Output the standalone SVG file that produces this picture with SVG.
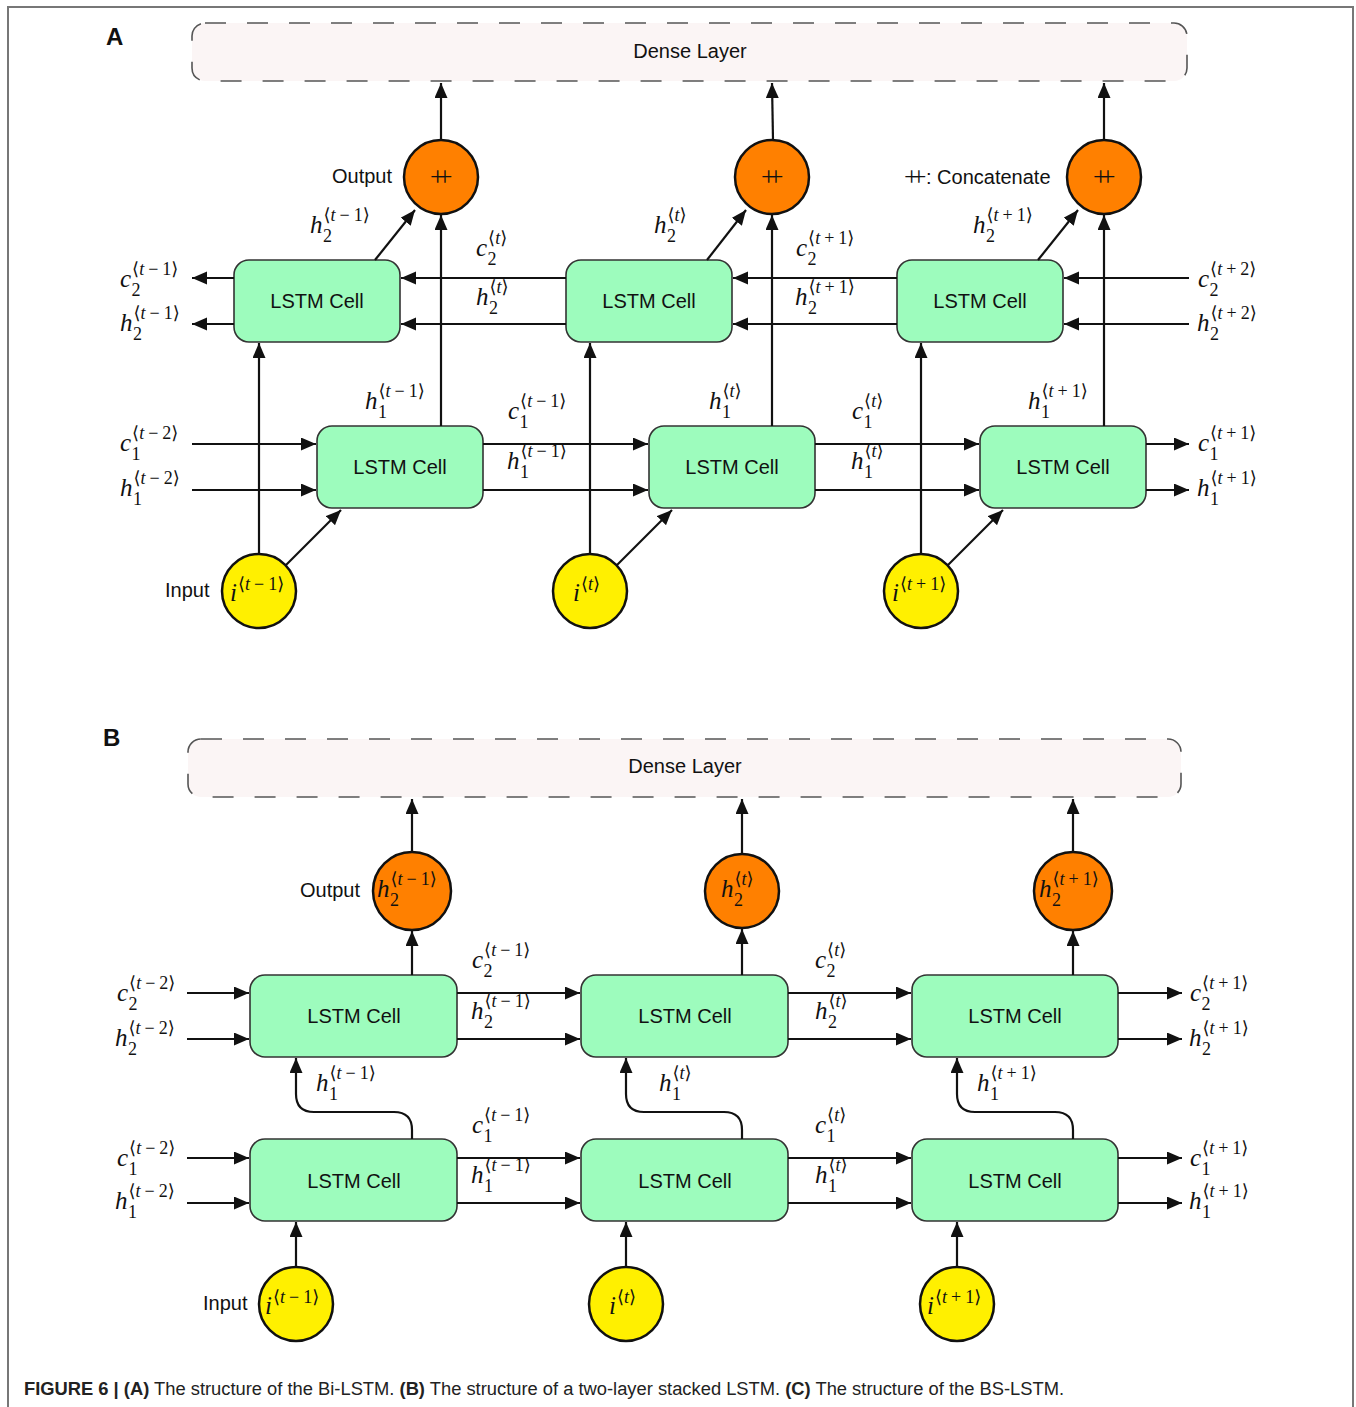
<svg xmlns="http://www.w3.org/2000/svg" width="1356" height="1407" viewBox="0 0 1356 1407">
<style>
.frame{fill:none;stroke:#777;stroke-width:2}
.dense{fill:#fbf5f5;stroke:#555;stroke-width:1.6;stroke-dasharray:21 21}
.cell{fill:#9dfcbd;stroke:#333;stroke-width:1.6}
.out{fill:#ff8000;stroke:#111;stroke-width:2.5}
.inp{fill:#fff000;stroke:#111;stroke-width:2.5}
.lab{font-family:"Liberation Sans",Arial,sans-serif;font-size:20px;fill:#111}
.ctr{text-anchor:middle}
.pl{font-family:"Liberation Sans",Arial,sans-serif;font-size:24px;font-weight:bold;fill:#111}
.con{fill:none;stroke:#111;stroke-width:2.2}
.arr{marker-end:url(#ah)}
.m text{font-family:"Liberation Serif","DejaVu Serif",serif;font-style:italic;font-size:25px;fill:#111}
.m .s{font-style:normal;font-size:18px}
.m .t{font-style:italic}
.cat{font-family:"Liberation Serif",serif;font-size:27px;fill:#111;letter-spacing:-8px}
.cap{font-family:"Liberation Sans Narrow","Liberation Sans",Arial,sans-serif;font-size:18px;fill:#222}
.b{font-weight:bold}
</style>
<defs>
<marker id="ah" markerUnits="userSpaceOnUse" markerWidth="16" markerHeight="14" refX="15" refY="6.5" orient="auto">
<path d="M0,0 L15,6.5 L0,13 z" fill="#111"/>
</marker>
</defs>
<rect width="1356" height="1407" fill="#fff"/>
<path class="frame" d="M8,1407 V7 H1353 V1407"/>

<text class="pl" x="106" y="45">A</text>
<text class="pl" x="103" y="746">B</text>

<!-- ===== Panel A nodes ===== -->
<g id="A-dense"><rect class="dense" x="192" y="23" width="995" height="58" rx="13"/><text class="lab ctr" x="690" y="58">Dense Layer</text></g>

<g id="A-out1"><circle class="out" cx="441" cy="177" r="37"/><text class="cat" x="430" y="186">++</text></g>
<g id="A-out2"><circle class="out" cx="772" cy="177" r="37"/><text class="cat" x="761" y="186">++</text></g>
<g id="A-out3"><circle class="out" cx="1104" cy="177" r="37"/><text class="cat" x="1093" y="186">++</text></g>
<text class="lab" x="332" y="183">Output</text>
<g id="A-legend"><text class="cat" x="904" y="186">++</text><text class="lab" x="926" y="184">: Concatenate</text></g>

<g id="A-top1"><rect class="cell" x="234" y="260" width="166" height="82" rx="15"/><text class="lab ctr" x="317" y="308">LSTM Cell</text></g>
<g id="A-top2"><rect class="cell" x="566" y="260" width="166" height="82" rx="15"/><text class="lab ctr" x="649" y="308">LSTM Cell</text></g>
<g id="A-top3"><rect class="cell" x="897" y="260" width="166" height="82" rx="15"/><text class="lab ctr" x="980" y="308">LSTM Cell</text></g>

<g id="A-bot1"><rect class="cell" x="317" y="426" width="166" height="82" rx="15"/><text class="lab ctr" x="400" y="474">LSTM Cell</text></g>
<g id="A-bot2"><rect class="cell" x="649" y="426" width="166" height="82" rx="15"/><text class="lab ctr" x="732" y="474">LSTM Cell</text></g>
<g id="A-bot3"><rect class="cell" x="980" y="426" width="166" height="82" rx="15"/><text class="lab ctr" x="1063" y="474">LSTM Cell</text></g>

<g id="A-in1"><circle class="inp" cx="259" cy="591" r="37"/>
<g class="m" transform="translate(230,601)"><text>i<tspan class="s" dx="1" dy="-11">⟨<tspan class="t">t</tspan><tspan dx="4">−</tspan><tspan dx="4">1</tspan>⟩</tspan></text></g></g>
<g id="A-in2"><circle class="inp" cx="590" cy="591" r="37"/>
<g class="m" transform="translate(573,601)"><text>i<tspan class="s" dx="1" dy="-11">⟨<tspan class="t">t</tspan>⟩</tspan></text></g></g>
<g id="A-in3"><circle class="inp" cx="921" cy="591" r="37"/>
<g class="m" transform="translate(892,601)"><text>i<tspan class="s" dx="1" dy="-11">⟨<tspan class="t">t</tspan><tspan dx="4">+</tspan><tspan dx="4">1</tspan>⟩</tspan></text></g></g>
<text class="lab" x="165" y="597">Input</text>

<!-- ===== Panel B nodes ===== -->
<g id="B-dense"><rect class="dense" x="188" y="739" width="993" height="58" rx="13"/><text class="lab ctr" x="685" y="773">Dense Layer</text></g>

<g id="B-out1"><circle class="out" cx="412" cy="891" r="39"/>
<g class="m" transform="translate(377,897)"><text>h<tspan class="s" dx="1" dy="-12">⟨<tspan class="t">t</tspan><tspan dx="4">−</tspan><tspan dx="4">1</tspan>⟩</tspan><tspan class="s" x="13" dy="21">2</tspan></text></g></g>
<g id="B-out2"><circle class="out" cx="742" cy="891" r="37"/>
<g class="m" transform="translate(721,897)"><text>h<tspan class="s" dx="1" dy="-12">⟨<tspan class="t">t</tspan>⟩</tspan><tspan class="s" x="13" dy="21">2</tspan></text></g></g>
<g id="B-out3"><circle class="out" cx="1073" cy="891" r="39"/>
<g class="m" transform="translate(1039,897)"><text>h<tspan class="s" dx="1" dy="-12">⟨<tspan class="t">t</tspan><tspan dx="4">+</tspan><tspan dx="4">1</tspan>⟩</tspan><tspan class="s" x="13" dy="21">2</tspan></text></g></g>
<text class="lab" x="300" y="897">Output</text>

<g id="B-top1"><rect class="cell" x="250" y="975" width="207" height="82" rx="15"/><text class="lab ctr" x="354" y="1023">LSTM Cell</text></g>
<g id="B-top2"><rect class="cell" x="581" y="975" width="207" height="82" rx="15"/><text class="lab ctr" x="685" y="1023">LSTM Cell</text></g>
<g id="B-top3"><rect class="cell" x="912" y="975" width="206" height="82" rx="15"/><text class="lab ctr" x="1015" y="1023">LSTM Cell</text></g>

<g id="B-bot1"><rect class="cell" x="250" y="1139" width="207" height="82" rx="15"/><text class="lab ctr" x="354" y="1188">LSTM Cell</text></g>
<g id="B-bot2"><rect class="cell" x="581" y="1139" width="207" height="82" rx="15"/><text class="lab ctr" x="685" y="1188">LSTM Cell</text></g>
<g id="B-bot3"><rect class="cell" x="912" y="1139" width="206" height="82" rx="15"/><text class="lab ctr" x="1015" y="1188">LSTM Cell</text></g>

<g id="B-in1"><circle class="inp" cx="296" cy="1304" r="37"/>
<g class="m" transform="translate(265,1314)"><text>i<tspan class="s" dx="1" dy="-11">⟨<tspan class="t">t</tspan><tspan dx="4">−</tspan><tspan dx="4">1</tspan>⟩</tspan></text></g></g>
<g id="B-in2"><circle class="inp" cx="626" cy="1304" r="37"/>
<g class="m" transform="translate(609,1314)"><text>i<tspan class="s" dx="1" dy="-11">⟨<tspan class="t">t</tspan>⟩</tspan></text></g></g>
<g id="B-in3"><circle class="inp" cx="957" cy="1304" r="37"/>
<g class="m" transform="translate(927,1314)"><text>i<tspan class="s" dx="1" dy="-11">⟨<tspan class="t">t</tspan><tspan dx="4">+</tspan><tspan dx="4">1</tspan>⟩</tspan></text></g></g>
<text class="lab" x="203" y="1310">Input</text>

<!-- ===== Connectors ===== -->
<g id="connectors">
<line class="con arr" x1="441" y1="140" x2="441" y2="83"/>
<line class="con arr" x1="773" y1="140" x2="772" y2="83"/>
<line class="con arr" x1="1104" y1="140" x2="1104" y2="83"/>
<line class="con arr" x1="375" y1="260" x2="415" y2="210"/>
<line class="con arr" x1="707" y1="260" x2="746" y2="210"/>
<line class="con arr" x1="1038" y1="260" x2="1078" y2="210"/>
<line class="con arr" x1="441" y1="426" x2="441" y2="215"/>
<line class="con arr" x1="772" y1="426" x2="772" y2="215"/>
<line class="con arr" x1="1104" y1="426" x2="1104" y2="215"/>
<line class="con arr" x1="259" y1="554" x2="259" y2="343"/>
<line class="con arr" x1="590" y1="554" x2="590" y2="343"/>
<line class="con arr" x1="921" y1="554" x2="921" y2="343"/>
<line class="con arr" x1="286" y1="565" x2="341" y2="510"/>
<line class="con arr" x1="617" y1="565" x2="672" y2="510"/>
<line class="con arr" x1="948" y1="565" x2="1003" y2="510"/>
<line class="con arr" x1="234" y1="278" x2="192" y2="278"/>
<line class="con arr" x1="234" y1="324" x2="192" y2="324"/>
<line class="con arr" x1="566" y1="278" x2="401" y2="278"/>
<line class="con arr" x1="566" y1="324" x2="401" y2="324"/>
<line class="con arr" x1="897" y1="278" x2="733" y2="278"/>
<line class="con arr" x1="897" y1="324" x2="733" y2="324"/>
<line class="con arr" x1="1189" y1="278" x2="1064" y2="278"/>
<line class="con arr" x1="1189" y1="324" x2="1064" y2="324"/>
<line class="con arr" x1="192" y1="444" x2="316" y2="444"/>
<line class="con arr" x1="192" y1="490" x2="316" y2="490"/>
<line class="con arr" x1="483" y1="444" x2="648" y2="444"/>
<line class="con arr" x1="483" y1="490" x2="648" y2="490"/>
<line class="con arr" x1="815" y1="444" x2="979" y2="444"/>
<line class="con arr" x1="815" y1="490" x2="979" y2="490"/>
<line class="con arr" x1="1146" y1="444" x2="1189" y2="444"/>
<line class="con arr" x1="1146" y1="490" x2="1189" y2="490"/>

<line class="con arr" x1="412" y1="852" x2="412" y2="799"/>
<line class="con arr" x1="742" y1="854" x2="742" y2="799"/>
<line class="con arr" x1="1073" y1="852" x2="1073" y2="799"/>
<line class="con arr" x1="412" y1="975" x2="412" y2="931"/>
<line class="con arr" x1="742" y1="975" x2="742" y2="929"/>
<line class="con arr" x1="1073" y1="975" x2="1073" y2="931"/>
<line class="con arr" x1="296" y1="1267" x2="296" y2="1222"/>
<line class="con arr" x1="626" y1="1267" x2="626" y2="1222"/>
<line class="con arr" x1="957" y1="1267" x2="957" y2="1222"/>
<path class="con arr" d="M412,1139 V1130 Q412,1112 394,1112 H314 Q296,1112 296,1094 V1058"/>
<path class="con arr" d="M742,1139 V1130 Q742,1112 724,1112 H644 Q626,1112 626,1094 V1058"/>
<path class="con arr" d="M1073,1139 V1130 Q1073,1112 1055,1112 H975 Q957,1112 957,1094 V1058"/>
<line class="con arr" x1="187" y1="993" x2="249" y2="993"/>
<line class="con arr" x1="187" y1="1039" x2="249" y2="1039"/>
<line class="con arr" x1="457" y1="993" x2="580" y2="993"/>
<line class="con arr" x1="457" y1="1039" x2="580" y2="1039"/>
<line class="con arr" x1="788" y1="993" x2="911" y2="993"/>
<line class="con arr" x1="788" y1="1039" x2="911" y2="1039"/>
<line class="con arr" x1="1118" y1="993" x2="1182" y2="993"/>
<line class="con arr" x1="1118" y1="1039" x2="1182" y2="1039"/>
<line class="con arr" x1="187" y1="1158" x2="249" y2="1158"/>
<line class="con arr" x1="187" y1="1203" x2="249" y2="1203"/>
<line class="con arr" x1="457" y1="1158" x2="580" y2="1158"/>
<line class="con arr" x1="457" y1="1203" x2="580" y2="1203"/>
<line class="con arr" x1="788" y1="1158" x2="911" y2="1158"/>
<line class="con arr" x1="788" y1="1203" x2="911" y2="1203"/>
<line class="con arr" x1="1118" y1="1158" x2="1182" y2="1158"/>
<line class="con arr" x1="1118" y1="1203" x2="1182" y2="1203"/>
</g>

<!-- ===== Connector labels ===== -->
<g id="labels">
<g class="m" transform="translate(310,233)"><text>h<tspan class="s" dx="1" dy="-12">⟨<tspan class="t">t</tspan><tspan dx="4">−</tspan><tspan dx="4">1</tspan>⟩</tspan><tspan class="s" x="13" dy="21">2</tspan></text></g>
<g class="m" transform="translate(654,233)"><text>h<tspan class="s" dx="1" dy="-12">⟨<tspan class="t">t</tspan>⟩</tspan><tspan class="s" x="13" dy="21">2</tspan></text></g>
<g class="m" transform="translate(973,233)"><text>h<tspan class="s" dx="1" dy="-12">⟨<tspan class="t">t</tspan><tspan dx="4">+</tspan><tspan dx="4">1</tspan>⟩</tspan><tspan class="s" x="13" dy="21">2</tspan></text></g>
<g class="m" transform="translate(476,256)"><text>c<tspan class="s" dx="1" dy="-12">⟨<tspan class="t">t</tspan>⟩</tspan><tspan class="s" x="11.5" dy="21">2</tspan></text></g>
<g class="m" transform="translate(476,305)"><text>h<tspan class="s" dx="1" dy="-12">⟨<tspan class="t">t</tspan>⟩</tspan><tspan class="s" x="13" dy="21">2</tspan></text></g>
<g class="m" transform="translate(796,256)"><text>c<tspan class="s" dx="1" dy="-12">⟨<tspan class="t">t</tspan><tspan dx="4">+</tspan><tspan dx="4">1</tspan>⟩</tspan><tspan class="s" x="11.5" dy="21">2</tspan></text></g>
<g class="m" transform="translate(795,305)"><text>h<tspan class="s" dx="1" dy="-12">⟨<tspan class="t">t</tspan><tspan dx="4">+</tspan><tspan dx="4">1</tspan>⟩</tspan><tspan class="s" x="13" dy="21">2</tspan></text></g>
<g class="m" transform="translate(120,287)"><text>c<tspan class="s" dx="1" dy="-12">⟨<tspan class="t">t</tspan><tspan dx="4">−</tspan><tspan dx="4">1</tspan>⟩</tspan><tspan class="s" x="11.5" dy="21">2</tspan></text></g>
<g class="m" transform="translate(120,331)"><text>h<tspan class="s" dx="1" dy="-12">⟨<tspan class="t">t</tspan><tspan dx="4">−</tspan><tspan dx="4">1</tspan>⟩</tspan><tspan class="s" x="13" dy="21">2</tspan></text></g>
<g class="m" transform="translate(1198,287)"><text>c<tspan class="s" dx="1" dy="-12">⟨<tspan class="t">t</tspan><tspan dx="4">+</tspan><tspan dx="4">2</tspan>⟩</tspan><tspan class="s" x="11.5" dy="21">2</tspan></text></g>
<g class="m" transform="translate(1197,331)"><text>h<tspan class="s" dx="1" dy="-12">⟨<tspan class="t">t</tspan><tspan dx="4">+</tspan><tspan dx="4">2</tspan>⟩</tspan><tspan class="s" x="13" dy="21">2</tspan></text></g>
<g class="m" transform="translate(365,409)"><text>h<tspan class="s" dx="1" dy="-12">⟨<tspan class="t">t</tspan><tspan dx="4">−</tspan><tspan dx="4">1</tspan>⟩</tspan><tspan class="s" x="13" dy="21">1</tspan></text></g>
<g class="m" transform="translate(709,409)"><text>h<tspan class="s" dx="1" dy="-12">⟨<tspan class="t">t</tspan>⟩</tspan><tspan class="s" x="13" dy="21">1</tspan></text></g>
<g class="m" transform="translate(1028,409)"><text>h<tspan class="s" dx="1" dy="-12">⟨<tspan class="t">t</tspan><tspan dx="4">+</tspan><tspan dx="4">1</tspan>⟩</tspan><tspan class="s" x="13" dy="21">1</tspan></text></g>
<g class="m" transform="translate(508,419)"><text>c<tspan class="s" dx="1" dy="-12">⟨<tspan class="t">t</tspan><tspan dx="4">−</tspan><tspan dx="4">1</tspan>⟩</tspan><tspan class="s" x="11.5" dy="21">1</tspan></text></g>
<g class="m" transform="translate(507,469)"><text>h<tspan class="s" dx="1" dy="-12">⟨<tspan class="t">t</tspan><tspan dx="4">−</tspan><tspan dx="4">1</tspan>⟩</tspan><tspan class="s" x="13" dy="21">1</tspan></text></g>
<g class="m" transform="translate(852,419)"><text>c<tspan class="s" dx="1" dy="-12">⟨<tspan class="t">t</tspan>⟩</tspan><tspan class="s" x="11.5" dy="21">1</tspan></text></g>
<g class="m" transform="translate(851,469)"><text>h<tspan class="s" dx="1" dy="-12">⟨<tspan class="t">t</tspan>⟩</tspan><tspan class="s" x="13" dy="21">1</tspan></text></g>
<g class="m" transform="translate(120,451)"><text>c<tspan class="s" dx="1" dy="-12">⟨<tspan class="t">t</tspan><tspan dx="4">−</tspan><tspan dx="4">2</tspan>⟩</tspan><tspan class="s" x="11.5" dy="21">1</tspan></text></g>
<g class="m" transform="translate(120,496)"><text>h<tspan class="s" dx="1" dy="-12">⟨<tspan class="t">t</tspan><tspan dx="4">−</tspan><tspan dx="4">2</tspan>⟩</tspan><tspan class="s" x="13" dy="21">1</tspan></text></g>
<g class="m" transform="translate(1198,451)"><text>c<tspan class="s" dx="1" dy="-12">⟨<tspan class="t">t</tspan><tspan dx="4">+</tspan><tspan dx="4">1</tspan>⟩</tspan><tspan class="s" x="11.5" dy="21">1</tspan></text></g>
<g class="m" transform="translate(1197,496)"><text>h<tspan class="s" dx="1" dy="-12">⟨<tspan class="t">t</tspan><tspan dx="4">+</tspan><tspan dx="4">1</tspan>⟩</tspan><tspan class="s" x="13" dy="21">1</tspan></text></g>
<g class="m" transform="translate(472,968)"><text>c<tspan class="s" dx="1" dy="-12">⟨<tspan class="t">t</tspan><tspan dx="4">−</tspan><tspan dx="4">1</tspan>⟩</tspan><tspan class="s" x="11.5" dy="21">2</tspan></text></g>
<g class="m" transform="translate(471,1019)"><text>h<tspan class="s" dx="1" dy="-12">⟨<tspan class="t">t</tspan><tspan dx="4">−</tspan><tspan dx="4">1</tspan>⟩</tspan><tspan class="s" x="13" dy="21">2</tspan></text></g>
<g class="m" transform="translate(815,968)"><text>c<tspan class="s" dx="1" dy="-12">⟨<tspan class="t">t</tspan>⟩</tspan><tspan class="s" x="11.5" dy="21">2</tspan></text></g>
<g class="m" transform="translate(815,1019)"><text>h<tspan class="s" dx="1" dy="-12">⟨<tspan class="t">t</tspan>⟩</tspan><tspan class="s" x="13" dy="21">2</tspan></text></g>
<g class="m" transform="translate(117,1001)"><text>c<tspan class="s" dx="1" dy="-12">⟨<tspan class="t">t</tspan><tspan dx="4">−</tspan><tspan dx="4">2</tspan>⟩</tspan><tspan class="s" x="11.5" dy="21">2</tspan></text></g>
<g class="m" transform="translate(115,1046)"><text>h<tspan class="s" dx="1" dy="-12">⟨<tspan class="t">t</tspan><tspan dx="4">−</tspan><tspan dx="4">2</tspan>⟩</tspan><tspan class="s" x="13" dy="21">2</tspan></text></g>
<g class="m" transform="translate(1190,1001)"><text>c<tspan class="s" dx="1" dy="-12">⟨<tspan class="t">t</tspan><tspan dx="4">+</tspan><tspan dx="4">1</tspan>⟩</tspan><tspan class="s" x="11.5" dy="21">2</tspan></text></g>
<g class="m" transform="translate(1189,1046)"><text>h<tspan class="s" dx="1" dy="-12">⟨<tspan class="t">t</tspan><tspan dx="4">+</tspan><tspan dx="4">1</tspan>⟩</tspan><tspan class="s" x="13" dy="21">2</tspan></text></g>
<g class="m" transform="translate(316,1091)"><text>h<tspan class="s" dx="1" dy="-12">⟨<tspan class="t">t</tspan><tspan dx="4">−</tspan><tspan dx="4">1</tspan>⟩</tspan><tspan class="s" x="13" dy="21">1</tspan></text></g>
<g class="m" transform="translate(659,1091)"><text>h<tspan class="s" dx="1" dy="-12">⟨<tspan class="t">t</tspan>⟩</tspan><tspan class="s" x="13" dy="21">1</tspan></text></g>
<g class="m" transform="translate(977,1091)"><text>h<tspan class="s" dx="1" dy="-12">⟨<tspan class="t">t</tspan><tspan dx="4">+</tspan><tspan dx="4">1</tspan>⟩</tspan><tspan class="s" x="13" dy="21">1</tspan></text></g>
<g class="m" transform="translate(472,1133)"><text>c<tspan class="s" dx="1" dy="-12">⟨<tspan class="t">t</tspan><tspan dx="4">−</tspan><tspan dx="4">1</tspan>⟩</tspan><tspan class="s" x="11.5" dy="21">1</tspan></text></g>
<g class="m" transform="translate(471,1183)"><text>h<tspan class="s" dx="1" dy="-12">⟨<tspan class="t">t</tspan><tspan dx="4">−</tspan><tspan dx="4">1</tspan>⟩</tspan><tspan class="s" x="13" dy="21">1</tspan></text></g>
<g class="m" transform="translate(815,1133)"><text>c<tspan class="s" dx="1" dy="-12">⟨<tspan class="t">t</tspan>⟩</tspan><tspan class="s" x="11.5" dy="21">1</tspan></text></g>
<g class="m" transform="translate(815,1183)"><text>h<tspan class="s" dx="1" dy="-12">⟨<tspan class="t">t</tspan>⟩</tspan><tspan class="s" x="13" dy="21">1</tspan></text></g>
<g class="m" transform="translate(117,1166)"><text>c<tspan class="s" dx="1" dy="-12">⟨<tspan class="t">t</tspan><tspan dx="4">−</tspan><tspan dx="4">2</tspan>⟩</tspan><tspan class="s" x="11.5" dy="21">1</tspan></text></g>
<g class="m" transform="translate(115,1209)"><text>h<tspan class="s" dx="1" dy="-12">⟨<tspan class="t">t</tspan><tspan dx="4">−</tspan><tspan dx="4">2</tspan>⟩</tspan><tspan class="s" x="13" dy="21">1</tspan></text></g>
<g class="m" transform="translate(1190,1166)"><text>c<tspan class="s" dx="1" dy="-12">⟨<tspan class="t">t</tspan><tspan dx="4">+</tspan><tspan dx="4">1</tspan>⟩</tspan><tspan class="s" x="11.5" dy="21">1</tspan></text></g>
<g class="m" transform="translate(1189,1209)"><text>h<tspan class="s" dx="1" dy="-12">⟨<tspan class="t">t</tspan><tspan dx="4">+</tspan><tspan dx="4">1</tspan>⟩</tspan><tspan class="s" x="13" dy="21">1</tspan></text></g>
</g>

<text class="cap" x="24" y="1395" textLength="1040" lengthAdjust="spacingAndGlyphs"><tspan class="b">FIGURE 6 | (A)</tspan> The structure of the Bi-LSTM. <tspan class="b">(B)</tspan> The structure of a two-layer stacked LSTM. <tspan class="b">(C)</tspan> The structure of the BS-LSTM.</text>
</svg>
